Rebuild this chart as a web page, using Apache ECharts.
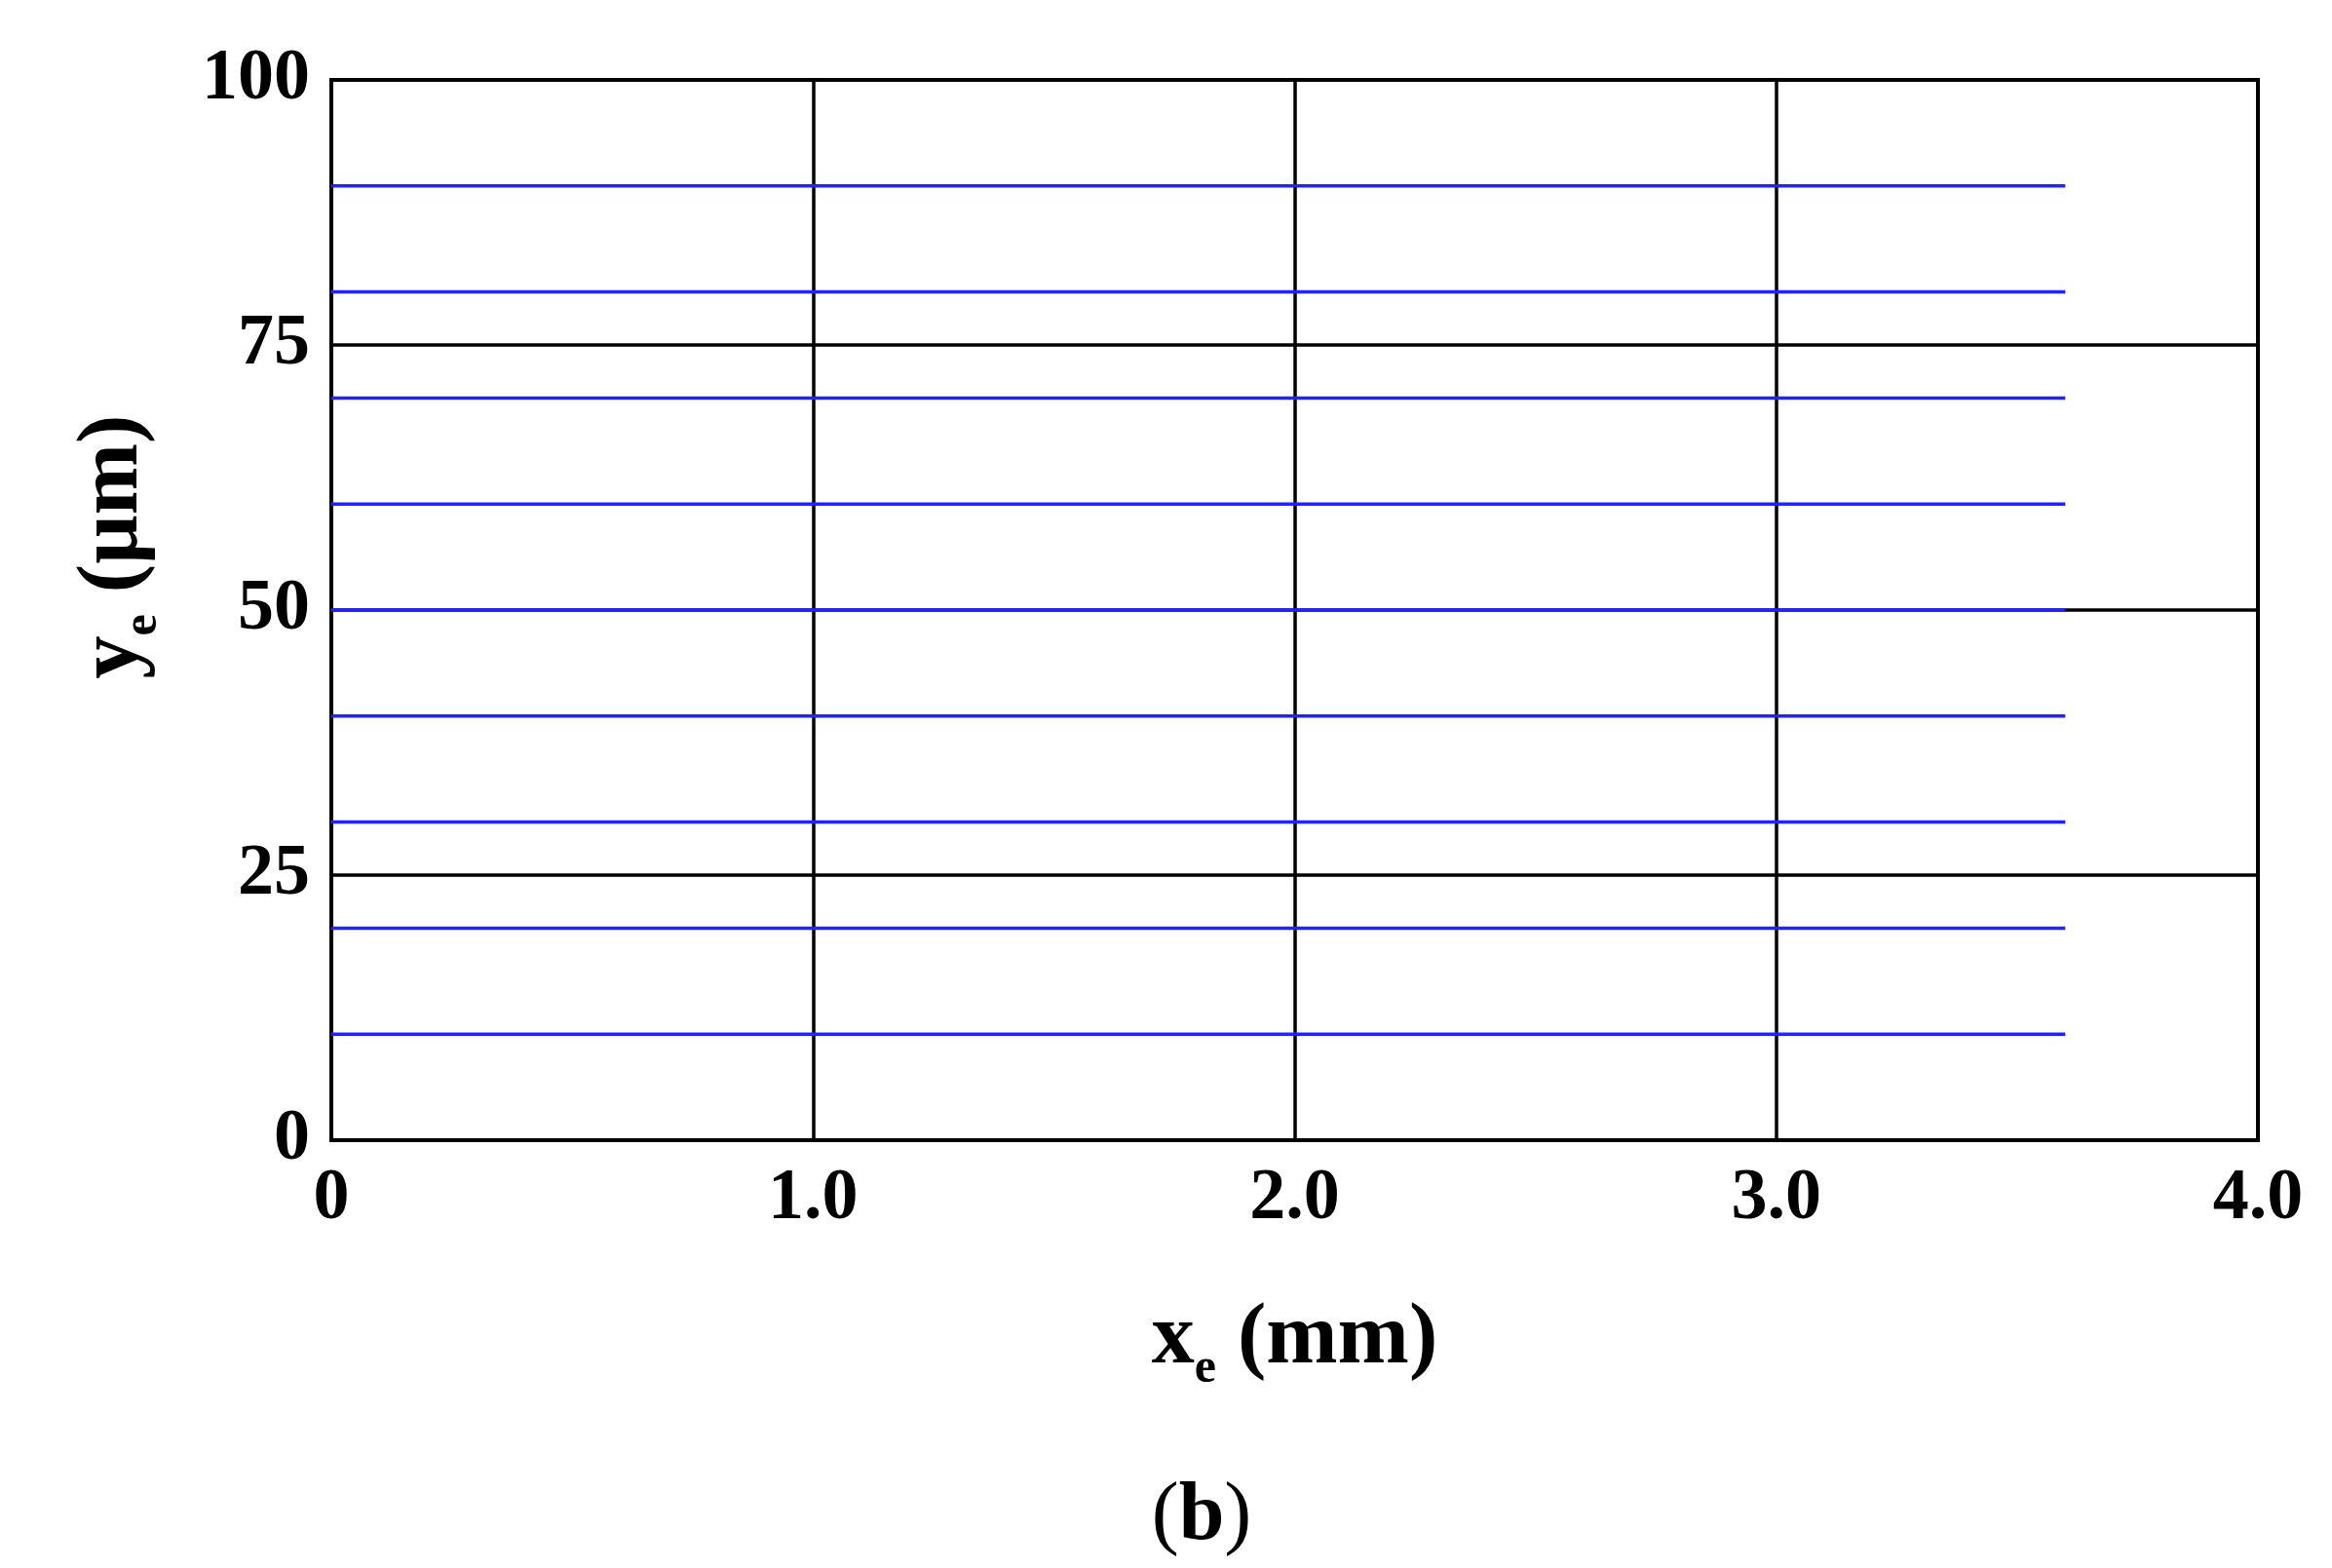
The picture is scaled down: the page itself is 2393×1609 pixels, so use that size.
<!DOCTYPE html>
<html>
<head>
<meta charset="utf-8">
<script src="https://cdn.jsdelivr.net/npm/echarts@6/dist/echarts.min.js"></script>
<style>
html,body{margin:0;padding:0;background:#fff;}
#chart{width:2393px;height:1609px;}
</style>
</head>
<body>
<div id="chart"></div>
<script>
// Data
var lineLevels = [10, 20, 30, 40, 50, 60, 70, 80, 90]; // ye (µm) of each streamline
var lineStartX = 0;    // xe (mm)
var lineEndX = 3.6;    // xe (mm)
var xTicks = [0, 1.0, 2.0, 3.0, 4.0];
var yTicks = [0, 25, 50, 75, 100];

var FONT = '"Liberation Serif", "Times New Roman", serif';

var series = lineLevels.map(function (y) {
  return {
    type: 'line',
    data: [[lineStartX, y], [lineEndX, y]],
    symbol: 'none',
    lineStyle: { color: '#2222ff', width: 3.5 },
    z: 5,
    silent: true
  };
});

var chart = echarts.init(document.getElementById('chart'));
chart.setOption({
  backgroundColor: '#ffffff',
  animation: false,
  grid: {
    left: 340, top: 82, right: 76, bottom: 439,
    show: true, borderColor: '#000', borderWidth: 4, backgroundColor: 'transparent'
  },
  title: {
    text: '{p|(}{b|b}{p|)}',
    left: 1228, top: 1510,
    textAlign: 'center',
    textStyle: {
      rich: {
        p: { fontFamily: FONT, fontSize: 84, fontWeight: 'normal', color: '#000' },
        b: { fontFamily: FONT, fontSize: 84, fontWeight: 'bold', color: '#000' }
      }
    }
  },
  xAxis: {
    type: 'value',
    min: xTicks[0], max: xTicks[xTicks.length - 1], interval: 1,
    name: '{m|x}{s|e}{m| (mm)}',
    nameLocation: 'middle',
    nameGap: 150,
    nameTextStyle: {
      rich: {
        m: { fontFamily: FONT, fontSize: 88, fontWeight: 'bold', color: '#000', lineHeight: 110, verticalAlign: 'middle' },
        s: { fontFamily: FONT, fontSize: 50, fontWeight: 'bold', color: '#000', lineHeight: 110, verticalAlign: 'bottom' }
      }
    },
    axisLine: { show: false },
    axisTick: { show: false },
    axisLabel: {
      margin: 24,
      fontFamily: FONT, fontSize: 74, fontWeight: 'bold', color: '#000',
      formatter: function (v) { return v === 0 ? '0' : v.toFixed(1); }
    },
    splitLine: { show: true, lineStyle: { color: '#000', width: 3.5 } }
  },
  yAxis: {
    type: 'value',
    min: yTicks[0], max: yTicks[yTicks.length - 1], interval: 25,
    name: '{m|y}{s|e}{m| (µm)}',
    nameLocation: 'middle',
    nameGap: 168,
    nameTextStyle: {
      padding: [0, 0, 0, 130],
      rich: {
        m: { fontFamily: FONT, fontSize: 88, fontWeight: 'bold', color: '#000', lineHeight: 110, verticalAlign: 'middle' },
        s: { fontFamily: FONT, fontSize: 50, fontWeight: 'bold', color: '#000', lineHeight: 110, verticalAlign: 'bottom' }
      }
    },
    axisLine: { show: false },
    axisTick: { show: false },
    axisLabel: {
      margin: 22,
      fontFamily: FONT, fontSize: 74, fontWeight: 'bold', color: '#000'
    },
    splitLine: { show: true, lineStyle: { color: '#000', width: 3.5 } }
  },
  series: series
});
</script>
</body>
</html>
